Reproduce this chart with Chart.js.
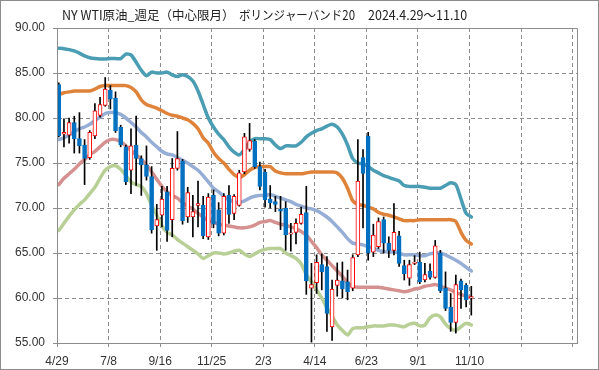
<!DOCTYPE html>
<html lang="ja">
<head>
<meta charset="UTF-8">
<title>NY WTI原油 週足 ボリンジャーバンド20</title>
<script src="https://cdn.jsdelivr.net/npm/chart.js@4"></script>
<style>
  html, body { margin: 0; padding: 0; background: #fff; }
  #wrap { width: 599px; height: 370px; }
</style>
</head>
<body>
<div id="wrap"><canvas id="wtiChart" width="599" height="370"></canvas></div>
<script>
// Weekly candles, 2024/4/29 .. 2025/11/10 (81 weeks)
const opens = [83.7,78.2,78.1,79.5,77.7,77.0,75.6,78.0,80.3,81.4,
  83.1,82.2,79.0,76.8,74.2,77.0,75.5,74.8,73.5,68.0,
  69.2,71.8,68.7,74.4,75.2,69.0,69.0,70.3,70.3,66.8,
  71.4,69.8,67.2,71.4,69.4,70.3,74.0,76.5,77.4,74.6,
  74.0,71.0,70.7,69.85,70.0,67.1,67.3,68.3,69.5,61.1,
  61.7,63.7,63.5,56.8,61.4,61.9,61.8,61.1,64.8,75.6,
  78.0,65.1,65.7,68.7,66.1,65.3,66.9,63.6,62.2,63.85,
  64.0,62.0,63.0,62.3,65.0,61.1,59.0,57.3,61.9,61.4,
  60.0];
const highs = [83.9,79.9,80.0,80.2,80.6,77.6,78.6,81.6,82.3,84.5,
  83.6,82.9,79.2,77.0,78.8,80.2,75.8,76.9,74.6,70.4,
  72.4,72.4,75.5,78.5,75.4,72.3,71.4,73.0,71.3,71.6,
  72.0,70.6,71.6,72.5,71.5,74.2,78.3,79.4,77.6,75.1,
  74.3,72.5,71.3,71.3,70.7,68.3,68.8,70.1,72.4,63.85,
  64.8,64.9,64.6,62.0,63.9,64.0,63.1,64.8,77.6,76.5,
  78.4,68.2,68.9,69.0,66.8,70.5,67.4,64.2,64.2,64.7,
  65.1,63.85,63.8,66.4,65.3,62.9,60.5,62.55,62.1,61.6,
  61.3];
const lows = [77.9,76.8,77.2,76.1,76.1,72.6,75.4,77.7,80.1,81.3,
  81.0,78.4,76.8,72.6,71.6,72.5,71.4,73.1,67.2,65.3,
  67.9,66.3,66.8,74.2,68.2,68.4,66.8,67.9,66.6,66.5,
  67.8,66.9,67.0,68.3,68.7,70.2,73.8,76.3,74.4,72.0,
  70.1,70.0,69.6,67.6,65.3,65.2,66.0,68.2,60.4,55.1,
  60.5,60.9,56.3,55.3,60.2,60.0,59.8,60.8,64.6,67.8,
  64.2,64.6,65.5,65.0,64.5,64.8,63.5,62.0,61.4,63.7,
  61.6,61.8,62.1,62.2,60.6,58.6,56.3,56.1,58.85,59.0,
  58.1];
const closes = [78.0,78.4,79.5,77.7,76.9,75.5,78.4,80.8,81.5,83.2,
  82.1,78.6,77.0,72.9,76.9,75.5,74.8,73.5,67.6,68.7,
  71.0,67.5,74.4,75.5,68.6,71.7,69.6,70.5,66.9,71.2,
  68.2,67.2,71.3,69.3,71.3,73.9,77.9,77.5,74.6,72.4,
  70.9,70.6,70.4,69.65,67.0,67.25,68.3,69.3,61.9,61.5,
  63.95,62.9,58.3,61.0,62.0,61.0,60.7,64.5,73.0,73.85,
  65.0,67.0,68.5,66.1,65.3,67.3,63.85,62.7,63.7,64.0,
  61.8,62.6,62.3,65.8,60.8,58.85,57.3,61.5,60.9,59.8,
  60.15];

// Bollinger band 20 (+2σ, +1σ, mid, -1σ, -2σ)
const upper2 = [87.75,87.7,87.6,87.45,87.2,86.9,86.7,86.6,86.55,86.55,
  86.6,86.6,86.6,87.1,87.0,86.2,85.3,84.7,85.1,85.0,
  85.0,85.1,84.8,84.6,84.8,84.6,84.1,83.0,81.5,80.0,
  79.0,78.2,77.6,76.8,76.2,75.9,76.5,77.3,77.7,77.7,
  77.7,77.6,77.0,76.6,76.9,76.9,76.9,77.3,77.9,78.3,
  78.6,78.8,79.1,79.3,79.0,78.2,77.0,75.5,75.0,74.9,
  74.6,74.2,73.9,73.6,73.4,73.2,73.0,72.5,72.4,72.4,
  72.4,72.3,72.2,72.2,72.2,72.5,72.8,72.6,71.0,69.4,
  69.0];
const upper1 = [82.6,82.8,82.9,83.0,83.0,83.0,83.0,83.2,83.5,83.6,
  83.6,83.6,83.6,83.6,83.4,82.9,82.0,81.5,81.3,81.1,
  80.8,80.5,80.3,80.2,80.0,79.8,79.4,78.8,77.8,77.2,
  76.2,75.5,75.0,74.3,73.7,73.4,73.7,74.2,74.5,74.6,
  74.6,74.6,74.1,73.9,73.8,73.8,73.8,73.8,73.9,74.0,
  74.0,74.0,74.0,74.0,73.9,73.3,72.2,70.8,70.4,70.3,
  70.1,69.9,69.5,69.3,69.2,69.0,68.8,68.6,68.6,68.6,
  68.7,68.7,68.7,68.7,68.7,68.7,68.7,68.5,67.3,66.4,
  66.0];
const middle = [77.6,77.8,78.1,78.5,78.8,79.0,79.3,79.7,80.1,80.5,
  80.6,80.6,80.4,80.0,79.5,79.0,78.4,77.9,77.3,76.8,
  76.3,76.0,75.9,75.6,75.3,75.0,74.6,74.2,73.6,72.9,
  72.2,71.8,71.3,70.9,70.7,70.6,70.8,71.1,71.3,71.4,
  71.4,71.5,71.3,71.1,70.9,70.7,70.4,70.2,70.0,69.9,
  69.7,69.4,69.0,68.5,67.9,67.3,66.6,66.1,66.0,65.9,
  65.7,65.5,65.3,65.15,65.1,65.1,65.0,64.8,64.8,64.8,
  64.7,64.7,64.9,65.0,65.0,64.8,64.5,64.2,63.85,63.4,
  63.0];
const lower1 = [72.6,73.3,73.8,74.3,74.9,75.4,75.9,76.3,76.8,77.3,
  77.6,77.6,77.4,76.9,76.4,75.9,75.4,74.8,74.0,73.2,
  72.4,71.8,71.4,71.1,70.6,70.2,69.9,69.4,69.0,68.6,
  68.4,68.2,68.1,68.0,67.9,67.8,67.8,67.9,68.1,68.4,
  68.5,68.6,68.4,68.2,68.1,67.9,67.7,67.4,67.0,66.3,
  65.6,64.8,64.2,63.6,63.0,62.4,61.7,61.3,61.2,61.2,
  61.2,61.2,61.2,61.1,61.0,60.9,60.8,60.7,60.8,61.0,
  61.1,61.3,61.4,61.5,61.3,61.1,60.9,60.6,60.4,60.2,
  60.0];
const lower2 = [67.5,68.3,69.1,69.8,70.4,70.9,71.6,72.3,73.3,74.2,
  74.6,74.7,74.3,73.6,72.9,72.6,72.4,71.6,70.3,69.2,
  68.0,67.3,67.0,66.5,66.1,65.7,65.3,64.9,64.4,64.7,
  65.0,65.0,64.9,65.0,65.2,65.3,64.9,64.6,64.9,65.2,
  65.4,65.5,65.5,65.5,65.0,64.7,64.4,63.8,62.6,61.8,
  60.9,60.0,58.9,58.0,57.0,56.4,55.9,56.6,56.7,56.7,
  56.8,56.9,56.9,56.9,57.0,57.0,56.9,56.8,57.1,57.2,
  56.9,57.0,57.8,58.1,57.9,57.1,56.6,56.4,56.8,57.2,
  57.0];

// x axis labels, one every 10 weeks (last two gridlines unlabeled)
const xTickLabels = ['4/29', '7/8', '9/16', '11/25', '2/3', '4/14', '6/23', '9/1', '11/10', '', ''];
// title pieces, drawn with wide gaps between them
const titleParts = ['NY WTI原油_週足（中心限月）', 'ボリンジャーバンド20', '2024.4.29〜11.10'];
const titleX = [62, 239, 368];
const titleW = [176, 116, 100];

const X_OFFSET = 0.35;   // candles sit a bit right of the week gridline
const X_MAX = 100.85;
const TITLE_FONT = '"Noto Sans CJK JP", "Noto Sans", sans-serif';
const TICK_FONT = '"Liberation Sans", Arial, sans-serif';

const weeks = opens.map((_, i) => i + X_OFFSET);
const isUp = closes.map((c, i) => c >= opens[i]);
const wickData = weeks.map((x, i) => ({ x: x, y: [lows[i], highs[i]] }));
const bodyData = weeks.map((x, i) => ({ x: x, y: [opens[i], closes[i]] }));
const toPoints = arr => arr.map((y, i) => ({ x: weeks[i], y: y }));

function bandLine(label, values, color) {
    return {
        type: 'line',
        label: label,
        data: toPoints(values),
        borderColor: color,
        borderWidth: 3.5,
        pointRadius: 0,
        tension: 0.25,
        borderCapStyle: 'round',
        borderJoinStyle: 'round',
        order: 2
    };
}

// frame, plot border and title
const framePlugin = {
    id: 'frame',
    afterDatasetsDraw(chart) {
        const { ctx, chartArea: a } = chart;
        ctx.save();
        ctx.strokeStyle = '#8c8c8c';
        ctx.lineWidth = 1;
        ctx.beginPath();
        ctx.moveTo(Math.round(a.left) + 0.5, Math.round(a.top) + 0.5);
        ctx.lineTo(Math.round(a.right) + 0.5, Math.round(a.top) + 0.5);
        ctx.lineTo(Math.round(a.right) + 0.5, Math.round(a.bottom) + 0.5);
        ctx.stroke();
        ctx.restore();
    },
    afterDraw(chart) {
        const ctx = chart.ctx;
        ctx.save();
        ctx.strokeStyle = '#8c8c8c';
        ctx.lineWidth = 1;
        ctx.strokeRect(0.5, 0.5, chart.width - 1, chart.height - 1);
        ctx.fillStyle = '#222';
        ctx.font = '12.5px ' + TITLE_FONT;
        ctx.textBaseline = 'middle';
        titleParts.forEach((t, k) => ctx.fillText(t, titleX[k], 15, titleW[k]));
        ctx.restore();
    }
};

const gridColor = '#8c8c8c';

new Chart(document.getElementById('wtiChart'), {
    type: 'bar',
    data: {
        datasets: [
            {
                label: 'body',
                data: bodyData,
                backgroundColor: isUp.map(u => u ? '#ffffff' : '#0070c0'),
                borderColor: isUp.map(u => u ? '#ff0000' : '#0070c0'),
                borderWidth: 1,
                borderSkipped: false,
                barThickness: 4,
                grouped: false,
                order: 0
            },
            {
                label: 'wick',
                data: wickData,
                backgroundColor: '#000000',
                borderWidth: 0,
                barThickness: 1,
                grouped: false,
                order: 1
            },
            bandLine('+2σ', upper2, '#4a9db3'),
            bandLine('+1σ', upper1, '#e0833a'),
            bandLine('20週', middle, '#96aed6'),
            bandLine('-1σ', lower1, '#d4918f'),
            bandLine('-2σ', lower2, '#b8cf96')
        ]
    },
    options: {
        responsive: false,
        devicePixelRatio: 1,
        animation: false,
        layout: { padding: { top: 28, right: 22, bottom: 0, left: 0 } },
        plugins: {
            legend: { display: false },
            tooltip: { enabled: false },
            title: { display: false }
        },
        scales: {
            x: {
                type: 'linear',
                min: 0,
                max: X_MAX,
                offset: false,
                afterFit: s => { s.height = 27; },
                afterBuildTicks: s => { s.ticks = xTickLabels.map((_, k) => ({ value: k * 10 })); },
                grid: { color: gridColor, offset: false, tickLength: 4, tickColor: gridColor },
                border: { display: true, color: gridColor, width: 1, dash: [4, 3], z: 1 },
                ticks: {
                    autoSkip: false,
                    maxRotation: 0,
                    padding: 7,
                    color: '#333',
                    font: { family: TICK_FONT, size: 12 },
                    callback: (value, index) => xTickLabels[index]
                }
            },
            y: {
                min: 55,
                max: 90,
                afterFit: s => { s.width = 57; },
                grid: { color: gridColor, tickLength: 4, tickColor: gridColor },
                border: { display: true, color: gridColor, width: 1, dash: [4, 3], z: 1 },
                ticks: {
                    stepSize: 5,
                    padding: 8,
                    color: '#333',
                    font: { family: TICK_FONT, size: 12 },
                    callback: v => v.toFixed(2)
                }
            }
        }
    },
    plugins: [framePlugin]
});
</script>
</body>
</html>
